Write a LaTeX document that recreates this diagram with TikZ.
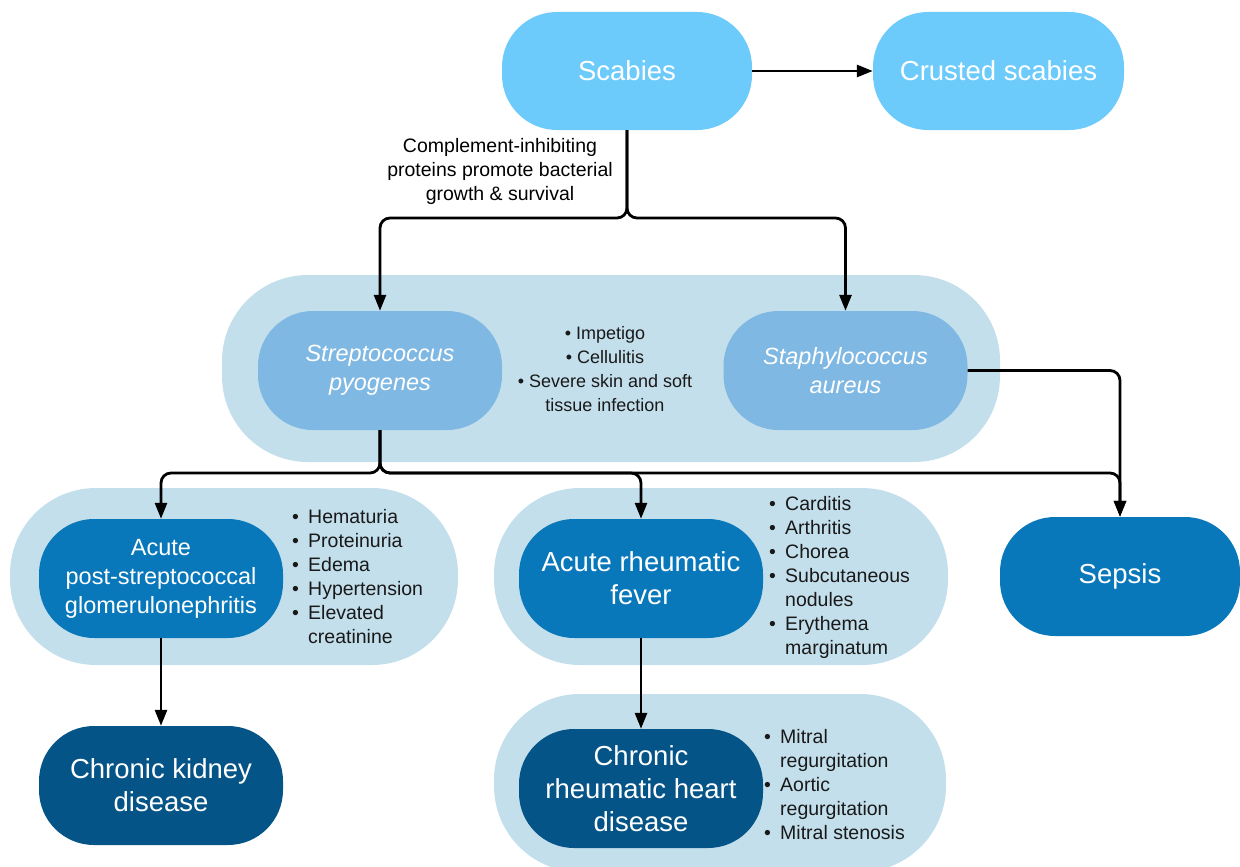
\documentclass[tikz,border=0pt]{standalone}
\usepackage{fontspec}
\setmainfont{Liberation Sans}
\usetikzlibrary{arrows.meta}

\definecolor{scabblue}{HTML}{6DCBFC}
\definecolor{bactblue}{HTML}{7FB8E2}
\definecolor{grpblue}{HTML}{C4DFEC}
\definecolor{acuteblue}{HTML}{0878BA}
\definecolor{chronblue}{HTML}{055488}

\newcommand{\bul}{\makebox[16pt][l]{•}}
\newcommand{\ind}{\hspace*{16pt}}

\begin{document}
\begin{tikzpicture}[x=1pt, y=-1pt,
  pill/.style={rectangle, rounded corners=55pt, minimum width=244pt, minimum height=119pt,
    inner sep=0pt, text=white, align=center},
  group/.style={rectangle, rounded corners=86pt, fill=grpblue, inner sep=0pt},
  big/.style={font=\fontsize{27.5}{33}\selectfont},
  mid/.style={font=\fontsize{23.5}{29}\selectfont},
  small/.style={font=\fontsize{19.5}{24}\selectfont},
  blist/.style={small, align=left, inner sep=0pt, anchor=west, text=black!90},
  arr/.style={-{Triangle[length=16pt,width=12pt]}, line width=2.8pt, rounded corners=10pt}]
  \useasboundingbox (0,0) rectangle (1240,867);

  % Pale groups behind the boxes
  \node[group, minimum width=778pt, minimum height=187pt] (grpbac) at (611,368.5) {};
  \node[group, minimum width=448pt, minimum height=177pt] (grpgn) at (234,576.5) {};
  \node[group, minimum width=454pt, minimum height=177pt] (grparf) at (721,576.5) {};
  \node[group, minimum width=452pt, minimum height=178pt] (grphd) at (720,783) {};

  % Top row
  \node[pill, big, fill=scabblue, minimum width=250pt, minimum height=118pt] (scab) at (627,71) {Scabies};
  \node[pill, big, fill=scabblue, minimum width=251pt, minimum height=118pt] (crust) at (998.5,71) {Crusted scabies};
  \node[small, align=center] (lblcomp) at (500,171)
    {Complement-inhibiting\\proteins promote bacterial\\growth \& survival};

  % Bacteria
  \node[pill, mid, fill=bactblue] (strep) at (380,370.5) {\itshape Streptococcus\\\itshape pyogenes};
  \node[pill, mid, fill=bactblue] (staph) at (845.5,370.5) {\itshape Staphylococcus\\\itshape aureus};
  \node[font=\fontsize{18}{24}\selectfont, align=center, text=black!90] (listbac) at (605,369)
    {• Impetigo\\• Cellulitis\\• Severe skin and soft\\tissue infection};

  % Acute disease
  \node[pill, mid, fill=acuteblue] (apsgn) at (161,578.5) {Acute\\post-streptococcal\\glomerulonephritis};
  \node[blist] (listgn) at (292,577)
    {\bul Hematuria\\\bul Proteinuria\\\bul Edema\\\bul Hypertension\\\bul Elevated\\\ind creatinine};
  \node[pill, big, fill=acuteblue] (arf) at (641,578.5) {Acute rheumatic\\fever};
  \node[blist] (listarf) at (769,577)
    {\bul Carditis\\\bul Arthritis\\\bul Chorea\\\bul Subcutaneous\\\ind nodules\\\bul Erythema\\\ind marginatum};
  \node[pill, big, fill=acuteblue, minimum width=240pt] (sepsis) at (1120,576.5) {Sepsis};

  % Chronic disease
  \node[pill, big, fill=chronblue] (ckd) at (161,785.5) {Chronic kidney\\disease};
  \node[pill, big, fill=chronblue] (crhd) at (641,788.5) {Chronic\\rheumatic heart\\disease};
  \node[blist] (listhd) at (764,784.5)
    {\bul Mitral\\\ind regurgitation\\\bul Aortic\\\ind regurgitation\\\bul Mitral stenosis};

  % Connectors
  \coordinate (j1) at (627,218);
  \coordinate (j2) at (380,473);
  \draw[arr] (scab) -- (crust);
  \draw[arr] (scab.south) -- (j1) -| (strep.north);
  \draw[arr] (scab.south) -- (j1) -| (staph.north);
  \draw[arr] (staph.east) -| (sepsis.north);
  \draw[arr] (strep.south) -- (j2) -| (apsgn.north);
  \draw[arr] (strep.south) -- (j2) -| (arf.north);
  \draw[arr] (strep.south) -- (j2) -| (sepsis.north);
  \draw[arr] (apsgn) -- (ckd);
  \draw[arr] (arf) -- (crhd);
\end{tikzpicture}
\end{document}
